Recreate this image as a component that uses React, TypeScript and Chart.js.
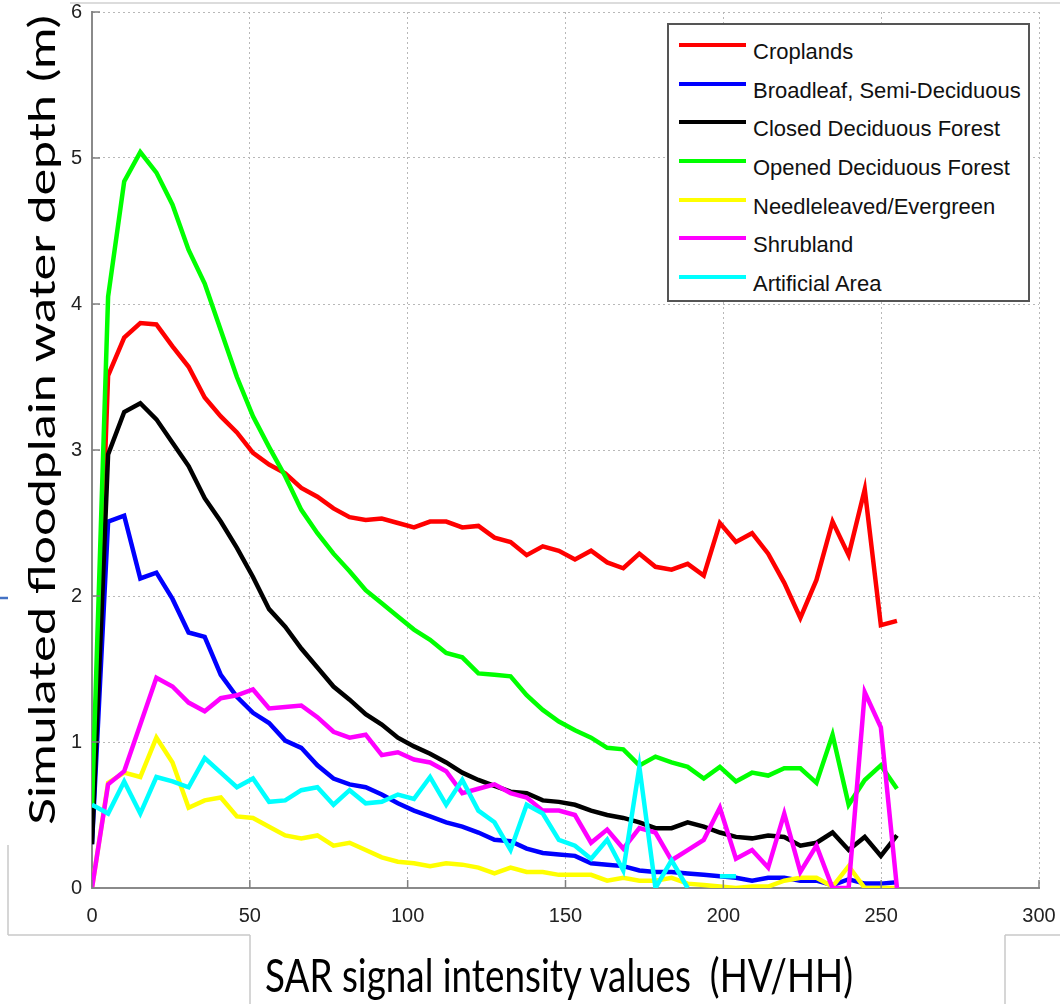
import React, { useEffect, useRef } from "react";
import { Chart, registerables } from "chart.js";

Chart.register(...registerables);

// SAR signal intensity (x) sample positions
const xValues = [
  0, 5.1, 10.2, 15.3, 20.4, 25.5, 30.6, 35.7, 40.8, 45.9, 51, 56.1, 61.2, 66.3, 71.4, 76.5, 81.6,
  86.7, 91.8, 96.9, 102, 107.1, 112.2, 117.3, 122.4, 127.5, 132.6, 137.7, 142.8, 147.9, 153,
  158.1, 163.2, 168.3, 173.4, 178.5, 183.6, 188.7, 193.8, 198.9, 204, 209.1, 214.2, 219.3,
  224.4, 229.5, 234.6, 239.7, 244.8, 249.9, 255,
];

const croplands = [
  0.5, 3.51, 3.77, 3.87, 3.86, 3.71, 3.57, 3.36, 3.23, 3.12, 2.98, 2.9, 2.84, 2.74, 2.68, 2.6,
  2.54, 2.52, 2.53, 2.5, 2.47, 2.51, 2.51, 2.47, 2.48, 2.4, 2.37, 2.28, 2.34, 2.31, 2.25, 2.31,
  2.23, 2.19, 2.29, 2.2, 2.18, 2.22, 2.14, 2.5, 2.37, 2.43, 2.29, 2.09, 1.85, 2.11, 2.51, 2.28,
  2.73, 1.8, 1.83,
];

const broadleaf = [
  0.3, 2.51, 2.55, 2.12, 2.16, 1.98, 1.75, 1.72, 1.46, 1.31, 1.2, 1.13, 1.01, 0.96, 0.84, 0.75,
  0.71, 0.69, 0.64, 0.58, 0.53, 0.49, 0.45, 0.42, 0.38, 0.33, 0.32, 0.27, 0.24, 0.23, 0.22, 0.17,
  0.16, 0.15, 0.12, 0.11, 0.11, 0.1, 0.09, 0.08, 0.07, 0.05, 0.07, 0.07, 0.05, 0.05, 0.02, 0.06,
  0.03, 0.03, 0.04,
];

const closedForest = [
  0.3, 2.97, 3.26, 3.32, 3.21, 3.05, 2.89, 2.67, 2.51, 2.33, 2.13, 1.91, 1.79, 1.64, 1.51, 1.38,
  1.29, 1.19, 1.12, 1.03, 0.97, 0.92, 0.86, 0.79, 0.74, 0.7, 0.66, 0.65, 0.6, 0.59, 0.57, 0.53,
  0.5, 0.48, 0.45, 0.41, 0.41, 0.45, 0.42, 0.38, 0.35, 0.34, 0.36, 0.35, 0.29, 0.31, 0.38, 0.26,
  0.35, 0.22, 0.36,
];

const openedForest = [
  0.55, 4.05, 4.84, 5.04, 4.9, 4.68, 4.37, 4.14, 3.82, 3.5, 3.23, 3.02, 2.82, 2.59, 2.43, 2.29,
  2.17, 2.04, 1.95, 1.86, 1.77, 1.7, 1.61, 1.58, 1.47, 1.46, 1.45, 1.32, 1.22, 1.14, 1.08, 1.03,
  0.96, 0.95, 0.84, 0.9, 0.86, 0.83, 0.75, 0.83, 0.73, 0.79, 0.77, 0.82, 0.82, 0.72, 1.05, 0.57,
  0.74, 0.84, 0.68,
];

const needleleaved = [
  0, 0.72, 0.79, 0.76, 1.03, 0.86, 0.55, 0.6, 0.62, 0.49, 0.48, 0.42, 0.36, 0.34, 0.36, 0.29,
  0.31, 0.26, 0.21, 0.18, 0.17, 0.15, 0.17, 0.16, 0.14, 0.1, 0.14, 0.11, 0.11, 0.09, 0.09, 0.09,
  0.05, 0.07, 0.05, 0.05, 0.07, 0.03, 0.02, 0.01, 0, 0.01, 0.01, 0.05, 0.07, 0.07, 0.01, 0.15,
  0, 0, 0,
];

const shrubland = [
  0, 0.71, 0.8, 1.12, 1.44, 1.38, 1.27, 1.21, 1.3, 1.32, 1.36, 1.23, 1.24, 1.25, 1.17, 1.07,
  1.03, 1.05, 0.91, 0.93, 0.88, 0.86, 0.8, 0.65, 0.68, 0.71, 0.65, 0.62, 0.53, 0.53, 0.5, 0.31,
  0.4, 0.27, 0.41, 0.38, 0.19, 0.26, 0.33, 0.55, 0.2, 0.26, 0.14, 0.51, 0.11, 0.29, 0, 0, 1.34,
  1.1, 0,
];

const artificial = [
  0.57, 0.51, 0.73, 0.51, 0.76, 0.73, 0.69, 0.89, 0.79, 0.69, 0.75, 0.59, 0.6, 0.67, 0.69, 0.57,
  0.67, 0.58, 0.59, 0.64, 0.61, 0.76, 0.57, 0.74, 0.53, 0.45, 0.26, 0.57, 0.51, 0.33, 0.29, 0.2,
  0.33, 0.12, 0.83, 0, 0.19, 0, null, 0.08, 0.08, null, null, null, null, null, null, null, null,
  null, null,
];

const seriesNames = [
  "Croplands",
  "Broadleaf, Semi-Deciduous",
  "Closed Deciduous Forest",
  "Opened Deciduous Forest",
  "Needleleaved/Evergreen",
  "Shrubland",
  "Artificial Area",
];
const seriesData = [croplands, broadleaf, closedForest, openedForest, needleleaved, shrubland, artificial];
const seriesColors = ["#ff0000", "#0000ff", "#000000", "#00ff00", "#ffff00", "#ff00ff", "#00ffff"];

const xTitle = "SAR signal intensity values\u00a0\u00a0(HV/HH)";
const yTitle = "Simulated floodplain water depth (m)";

const tickFont = "'Liberation Sans', Arial, Helvetica, sans-serif";

export default function App() {
  const canvasRef = useRef<HTMLCanvasElement>(null);

  useEffect(() => {
    const canvas = canvasRef.current;
    if (!canvas) return;

    const innerTicks = {
      id: "innerTicks",
      afterDraw(chart: any) {
        const { ctx, chartArea, scales } = chart;
        ctx.save();
        ctx.strokeStyle = "#7f7f7f";
        ctx.lineWidth = 1.5;
        scales.x.ticks.forEach((t: any) => {
          const px = scales.x.getPixelForValue(t.value);
          ctx.beginPath();
          ctx.moveTo(px, chartArea.bottom);
          ctx.lineTo(px, chartArea.bottom - 8);
          ctx.stroke();
        });
        scales.y.ticks.forEach((t: any) => {
          const py = scales.y.getPixelForValue(t.value);
          ctx.beginPath();
          ctx.moveTo(chartArea.left, py);
          ctx.lineTo(chartArea.left + 8, py);
          ctx.stroke();
        });
        ctx.restore();
      },
    };

    const datasets = seriesNames.map((name, si) => ({
      label: name,
      data: xValues.map((x, i) => ({ x, y: seriesData[si][i] })),
      borderColor: seriesColors[si],
      backgroundColor: seriesColors[si],
      borderWidth: 4.5,
      pointRadius: 0,
      tension: 0,
      fill: false,
      spanGaps: false,
      order: seriesNames.length - 1 - si,
    }));

    const chart = new Chart(canvas, {
      type: "line",
      data: { datasets },
      options: {
        animation: false,
        responsive: false,
        maintainAspectRatio: false,
        layout: { padding: { left: 0, top: 0, right: 0, bottom: 0 } },
        plugins: { legend: { display: false }, tooltip: { enabled: false } },
        scales: {
          x: {
            type: "linear",
            min: 0,
            max: 300,
            ticks: { stepSize: 50, padding: 16, color: "#222", font: { family: tickFont, size: 20 } },
            grid: { color: "#b8b8b8", lineWidth: 1, drawTicks: false },
            border: { display: true, color: "#8a8a8a", width: 2, dash: [2, 3] },
            afterFit(s: any) {
              s.height = 116;
              s.paddingLeft = 0;
              s.paddingRight = 21;
            },
          },
          y: {
            type: "linear",
            min: 0,
            max: 6,
            ticks: { stepSize: 1, padding: 10, color: "#222", font: { family: tickFont, size: 20 } },
            grid: { color: "#b8b8b8", lineWidth: 1, drawTicks: false },
            border: { display: true, color: "#8a8a8a", width: 2, dash: [2, 3] },
            afterFit(s: any) {
              s.width = 92;
              s.paddingTop = 12;
              s.paddingBottom = 0;
            },
          },
        },
      } as any,
      plugins: [innerTicks],
    });

    return () => chart.destroy();
  }, []);

  const legendLeft = 667;
  const legendTop = 23;

  return (
    <div
      style={{
        position: "absolute",
        left: 0,
        top: 0,
        width: 1060,
        height: 1004,
        background: "#fff",
        overflow: "hidden",
      }}
    >
      <canvas ref={canvasRef} width={1060} height={1004} style={{ position: "absolute", left: 0, top: 0, display: "block" }} />

      <div
        style={{
          position: "absolute",
          left: legendLeft,
          top: legendTop,
          width: 363,
          height: 279,
          boxSizing: "border-box",
          border: "2px solid #555",
          background: "#fff",
        }}
      >
        {seriesNames.map((name, k) => {
          const cy = 20 + 38.67 * k;
          return (
            <React.Fragment key={name}>
              <div
                style={{
                  position: "absolute",
                  left: 10,
                  top: cy - 2,
                  width: 67,
                  height: 4,
                  background: seriesColors[k],
                }}
              />
              <div
                style={{
                  position: "absolute",
                  left: 84,
                  top: cy - 6,
                  height: 26,
                  lineHeight: "26px",
                  fontFamily: tickFont,
                  fontSize: 22,
                  color: "#111",
                  whiteSpace: "nowrap",
                }}
              >
                {name}
              </div>
            </React.Fragment>
          );
        })}
      </div>

      <svg
        width={1060}
        height={1004}
        style={{ position: "absolute", left: 0, top: 0, pointerEvents: "none" }}
      >
        <line x1={70} y1={3} x2={1060} y2={3} stroke="#d0d0d0" strokeWidth={1.5} />
        <line x1={8} y1={845} x2={8} y2={935} stroke="#c8c8c8" strokeWidth={1.5} />
        <line x1={8} y1={935} x2={250} y2={935} stroke="#c8c8c8" strokeWidth={1.5} />
        <line x1={250} y1={935} x2={250} y2={1004} stroke="#c8c8c8" strokeWidth={1.5} />
        <line x1={1005} y1={935} x2={1060} y2={935} stroke="#c8c8c8" strokeWidth={1.5} />
        <line x1={1005} y1={935} x2={1005} y2={1004} stroke="#c8c8c8" strokeWidth={1.5} />
        <line x1={0} y1={598} x2={8} y2={598} stroke="#4472c4" strokeWidth={2.5} />
        <text
          x={265}
          y={992}
          fontFamily="Lato, 'Open Sans', sans-serif"
          fontSize={47}
          fill="#000"
          textLength={588}
          lengthAdjust="spacingAndGlyphs"
        >
          {xTitle}
        </text>
        <text
          transform="translate(55, 825) rotate(-90)"
          x={0}
          y={0}
          fontFamily="Lato, 'Open Sans', sans-serif"
          fontSize={36}
          fill="#000"
          textLength={810}
          lengthAdjust="spacingAndGlyphs"
        >
          {yTitle}
        </text>
      </svg>
    </div>
  );
}
